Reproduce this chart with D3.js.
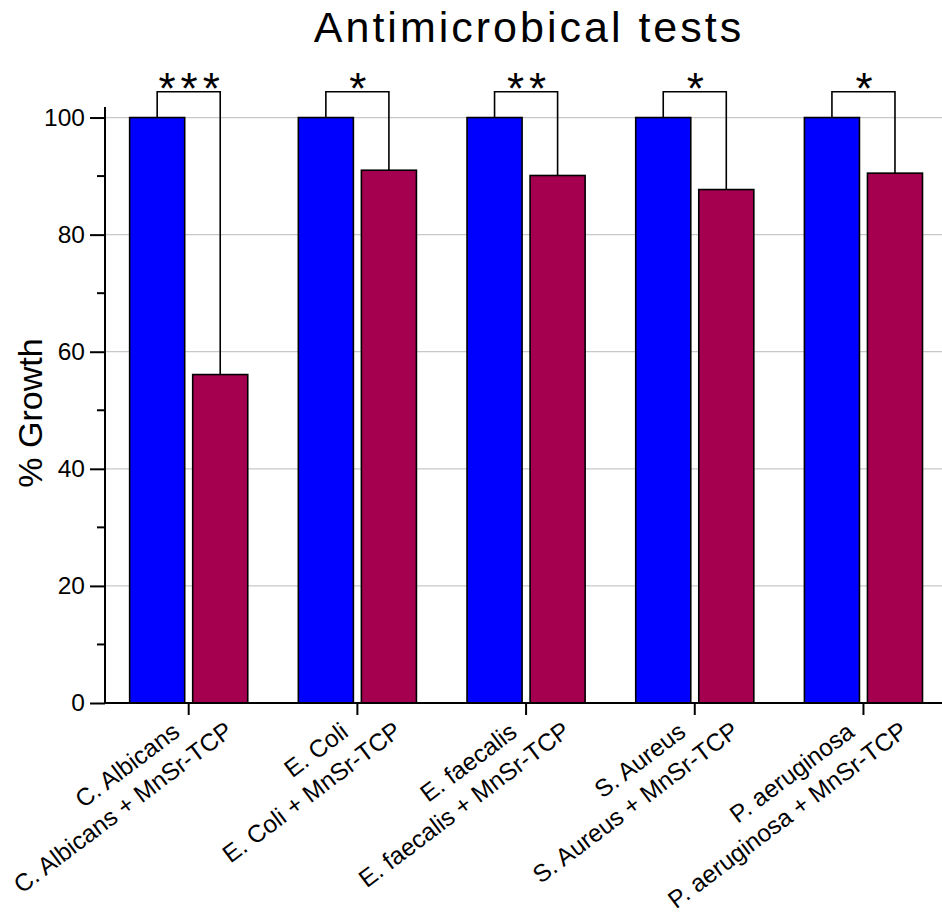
<!DOCTYPE html>
<html>
<head>
<meta charset="utf-8">
<script src="https://cdn.jsdelivr.net/npm/d3@7"></script>
<style>
  body { margin: 0; background: #fff; }
  svg { font-family: "Liberation Sans", Arial, sans-serif; }
</style>
</head>
<body>
<div id="chart"></div>
<script>
// chart data
let groups = ["C. Albicans", "E. Coli", "E. faecalis", "S. Aureus", "P. aeruginosa"];
let series = ["control", "treated"];
let control = [100, 100, 100, 100, 100];
let treated = [56.1, 91, 90.1, 87.7, 90.5];
let stars = ["***", "*", "**", "*", "*"];
let majorTicks = [0, 20, 40, 60, 80, 100];
let minorTicks = [10, 30, 50, 70, 90];
let bracketLevel = 104.4;

// svg size
let svgWidth = 942;
let svgHeight = 916;

let svg = d3.select("#chart")
  .append("svg")
  .attr("width", svgWidth)
  .attr("height", svgHeight);

// scales
let x = d3.scaleBand()
  .domain(groups)
  .range([104.35, 947.8])
  .paddingInner(0.3)
  .paddingOuter(0.15);

let xInner = d3.scaleBand()
  .domain(series)
  .range([0, x.bandwidth()])
  .paddingInner(0.127);

let y = d3.scaleLinear()
  .domain([0, 101.8])
  .range([703, 107]);

let colors = { control: "#0000ff", treated: "#a50050" };

// grid lines
svg.append("g")
  .selectAll("line")
  .data(majorTicks.filter(d => d > 0))
  .enter()
  .append("line")
  .attr("x1", 105)
  .attr("x2", svgWidth)
  .attr("y1", d => y(d))
  .attr("y2", d => y(d))
  .attr("stroke", "#c8c8c8")
  .attr("stroke-width", 1.2);

// bars
let rows = groups.map((g, i) => ({ group: g, control: control[i], treated: treated[i], star: stars[i] }));

let barGroups = svg.append("g")
  .selectAll("g")
  .data(rows)
  .enter()
  .append("g")
  .attr("transform", d => `translate(${x(d.group)},0)`);

barGroups.selectAll("rect")
  .data(d => series.map(s => ({ key: s, value: d[s] })))
  .enter()
  .append("rect")
  .attr("x", d => xInner(d.key))
  .attr("y", d => y(d.value))
  .attr("width", xInner.bandwidth())
  .attr("height", d => y(0) - y(d.value))
  .attr("fill", d => colors[d.key])
  .attr("stroke", "#000")
  .attr("stroke-width", 1.6);

// significance brackets
barGroups.append("path")
  .attr("d", d => {
    let x1 = xInner("control") + xInner.bandwidth() / 2;
    let x2 = xInner("treated") + xInner.bandwidth() / 2;
    return `M${x1},${y(d.control)}V${y(bracketLevel)}H${x2}V${y(d.treated)}`;
  })
  .attr("fill", "none")
  .attr("stroke", "#000")
  .attr("stroke-width", 1.6);

barGroups.append("text")
  .attr("x", x.bandwidth() / 2 + 3)
  .attr("y", y(bracketLevel) + 12)
  .attr("text-anchor", "middle")
  .attr("font-size", 44)
  .attr("letter-spacing", 5)
  .text(d => d.star);

// y axis
let leftAxis = d3.axisLeft(y)
  .tickValues(majorTicks)
  .tickSize(15)
  .tickPadding(5)
  .tickFormat(d3.format("d"));

let yAxis = svg.append("g")
  .attr("transform", "translate(105,0)")
  .call(leftAxis);

yAxis.select(".domain")
  .attr("d", `M0,${y(0)}V${y(101.8)}`)
  .attr("stroke-width", 2);
yAxis.selectAll(".tick line").attr("stroke-width", 2);
yAxis.selectAll(".tick text")
  .attr("font-size", 24.5)
  .attr("font-family", "Liberation Sans, Arial, sans-serif")
  .attr("fill", "#000");

svg.append("g")
  .selectAll("line")
  .data(minorTicks)
  .enter()
  .append("line")
  .attr("x1", 97)
  .attr("x2", 105)
  .attr("y1", d => y(d))
  .attr("y2", d => y(d))
  .attr("stroke", "#000")
  .attr("stroke-width", 2);

// x axis
let bottomAxis = d3.axisBottom(x)
  .tickSize(12)
  .tickSizeOuter(0)
  .tickFormat("");

let xAxis = svg.append("g")
  .attr("transform", `translate(0,${y(0)})`)
  .call(bottomAxis);

xAxis.select(".domain")
  .attr("d", `M104,0H${svgWidth}`)
  .attr("stroke-width", 2);
xAxis.selectAll(".tick line").attr("stroke-width", 2);

// rotated bar labels
let labels = [];
groups.forEach(g => {
  labels.push({ group: g, key: "control", text: g });
  labels.push({ group: g, key: "treated", text: g + " + MnSr-TCP" });
});

let labelShift = { control: [24, 32], treated: [14, 31] };

svg.append("g")
  .selectAll("text")
  .data(labels)
  .enter()
  .append("text")
  .attr("transform", d => {
    let cx = x(d.group) + xInner(d.key) + xInner.bandwidth() / 2;
    let s = labelShift[d.key];
    return `translate(${cx + s[0]},${y(0) + s[1]}) rotate(-37)`;
  })
  .attr("text-anchor", "end")
  .attr("font-size", 24.5)
  .text(d => d.text);

// axis title
svg.append("text")
  .attr("transform", `translate(42,413) rotate(-90)`)
  .attr("text-anchor", "middle")
  .attr("font-size", 34)
  .text("% Growth");

// chart title
svg.append("text")
  .attr("x", 529)
  .attr("y", 42)
  .attr("text-anchor", "middle")
  .attr("font-size", 43)
  .attr("letter-spacing", 3)
  .text("Antimicrobical tests");
</script>
</body>
</html>
